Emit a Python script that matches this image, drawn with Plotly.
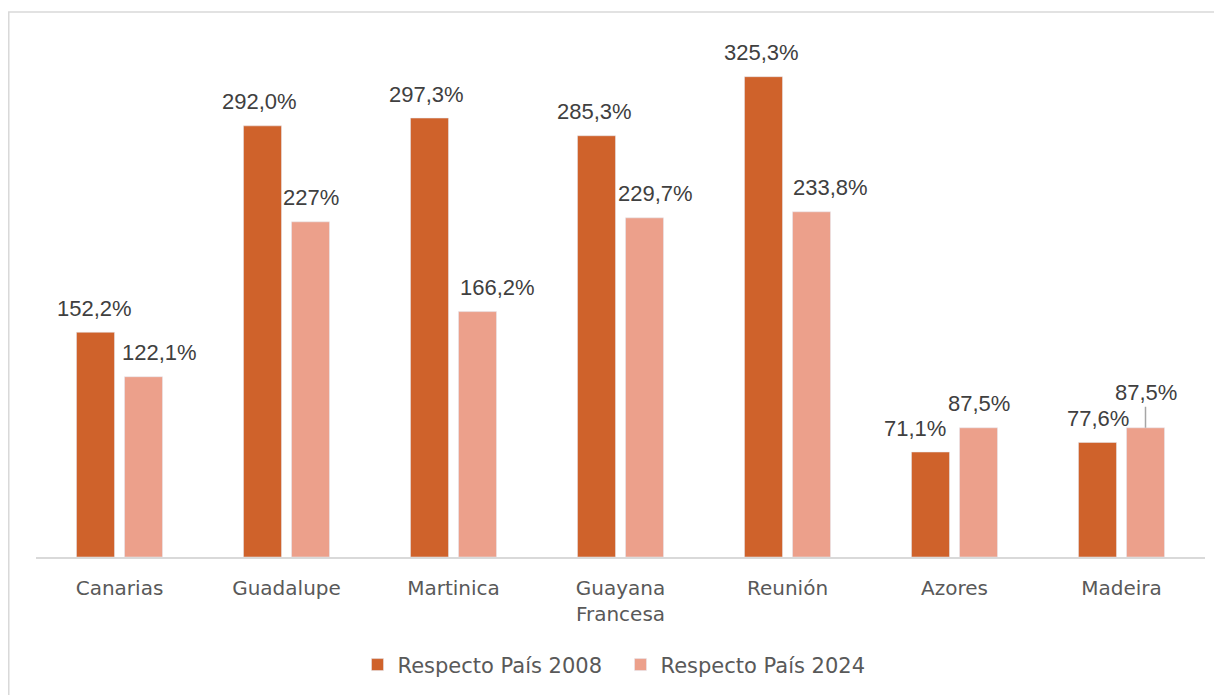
"""Gasto relativo respecto al país: regiones ultraperiféricas."""

import plotly.graph_objects as go

# data
CATEGORIES = ["Canarias", "Guadalupe", "Martinica", "Guayana<br>Francesa",
              "Reunión", "Azores", "Madeira"]
VALUES_2008 = [152.2, 292.0, 297.3, 285.3, 325.3, 71.1, 77.6]
VALUES_2024 = [122.1, 227.0, 166.2, 229.7, 233.8, 87.5, 87.5]
LABELS_2008 = ["152,2%", "292,0%", "297,3%", "285,3%", "325,3%", "71,1%", "77,6%"]
LABELS_2024 = ["122,1%", "227%", "166,2%", "229,7%", "233,8%", "87,5%", "87,5%"]

# styling
DARK = "#CF622B"
LIGHT = "#ECA08B"
TEXT = "#404040"
AXIS_TEXT = "#595959"
LABEL_FONT = dict(family="Liberation Sans, Arial, sans-serif", size=22, color=TEXT)
AXIS_FONT = dict(family="DejaVu Sans, sans-serif", size=20, color=AXIS_TEXT)
LEGEND_FONT = dict(family="DejaVu Sans, sans-serif", size=21, color=AXIS_TEXT)

# manual label nudges (px) as in the original Excel chart
SHIFT_2008 = [-1, -3, -3, -2, -2, -16, 0]
SHIFT_2024 = [16, 0, 20, 11, 19, 0, 0]
SLOT = 24  # half distance between the two bars of a group, px

fig = go.Figure()
fig.add_trace(go.Bar(x=CATEGORIES, y=VALUES_2008, name="Respecto País 2008",
                     marker_color=DARK))
fig.add_trace(go.Bar(x=CATEGORIES, y=VALUES_2024, name="Respecto País 2024",
                     marker_color=LIGHT))

annotations = []
for cat, val, lab, dx in zip(CATEGORIES, VALUES_2008, LABELS_2008, SHIFT_2008):
    annotations.append(dict(x=cat, y=val, text=lab, showarrow=False,
                            xshift=-SLOT + dx, yshift=24, yanchor="middle",
                            font=LABEL_FONT))
for i, (cat, val, lab, dx) in enumerate(
        zip(CATEGORIES, VALUES_2024, LABELS_2024, SHIFT_2024)):
    if i == len(CATEGORIES) - 1:
        # leader line for Madeira 2024
        annotations.append(dict(x=cat, y=val, text=lab, showarrow=True,
                                arrowhead=0, arrowwidth=1.5, arrowcolor="#A6A6A6",
                                ax=0, ay=-35, xshift=SLOT + dx,
                                font=LABEL_FONT))
    else:
        annotations.append(dict(x=cat, y=val, text=lab, showarrow=False,
                                xshift=SLOT + dx, yshift=24, yanchor="middle",
                                font=LABEL_FONT))

fig.update_layout(
    width=1222,
    height=695,
    margin=dict(l=28, r=25, t=47, b=146),
    paper_bgcolor="white",
    plot_bgcolor="white",
    barmode="group",
    bargap=0.425,
    bargroupgap=0.208,
    showlegend=True,
    legend=dict(orientation="h", x=0.5, xanchor="center", y=-0.215,
                yanchor="middle", font=LEGEND_FONT,
                entrywidth=218, entrywidthmode="pixels"),
    annotations=annotations,
    shapes=[dict(type="rect", xref="paper", yref="paper",
                 x0=-0.0233, x1=1.05, y0=-0.5, y1=1.0857,
                 line=dict(color="#D9D9D9", width=1.5), layer="below")],
)
fig.update_xaxes(showline=True, linecolor="#D9D9D9", linewidth=1.5,
                 tickfont=AXIS_FONT, ticks="", ticklabelstandoff=12)
fig.update_yaxes(visible=False, range=[0, 340])

fig.write_html("out.html")
